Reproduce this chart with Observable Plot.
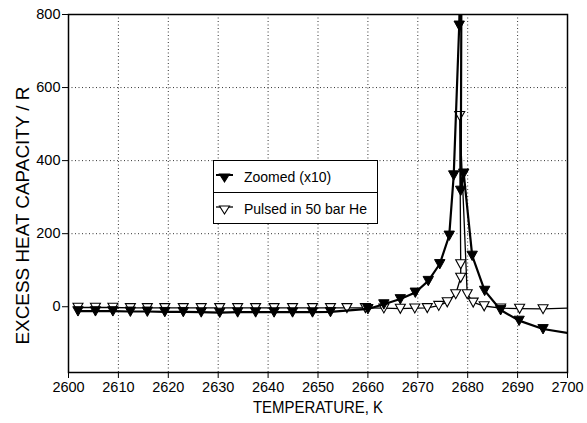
<!DOCTYPE html>
<html><head><meta charset="utf-8">
<script src="https://cdn.jsdelivr.net/npm/d3@7"></script>
<script src="https://cdn.jsdelivr.net/npm/@observablehq/plot@0.6"></script>
<style>
html,body{margin:0;padding:0;background:#fff;}
#wrap{position:relative;width:587px;height:423px;}
#legend{position:absolute;left:213px;top:160px;width:163px;height:62px;border:1.3px solid #000;background:#fff;font:14px "Liberation Sans",Arial,sans-serif;color:#000;}
.row{position:absolute;left:0;width:100%;height:31px;display:flex;align-items:center;}
.row svg{margin-left:1px;margin-right:9px;}
</style></head><body><div id="wrap"><div id="legend"></div></div>
<script>
// Zoomed (x10) series — filled down-triangles
const zoomedT = [2601.9,2605.4,2608.9,2612.4,2615.8,2619.3,2623.0,2626.6,2630.3,2633.9,2637.5,2641.2,2644.9,2648.9,2652.5,2660.0,2663.2,2666.5,2669.5,2672.1,2674.4,2676.3,2677.2,2678.3,2678.8,2678.6,2679.2,2680.9,2683.4,2686.6,2690.3,2695.1];
const zoomedC = [-12,-12,-12,-13,-13,-14,-14,-15,-16,-15,-15,-15,-15,-15,-14,-6,7,21,39,71,117,195,360,770,1100,318,365,140,44,-9,-38,-61];
const zoomedTailT = [2695.1,2700];
const zoomedTailC = [-61,-72];
// Pulsed in 50 bar He — open down-triangles
const pulsedT = [2601.9,2605.4,2608.9,2612.4,2615.8,2619.3,2623.0,2626.6,2630.3,2633.9,2637.5,2641.2,2644.9,2648.9,2652.5,2655.8,2659.5,2663.2,2666.5,2669.4,2671.9,2674.2,2675.9,2677.6,2678.6,2678.6,2678.4,2679.9,2681.1,2683.3,2686.6,2690.4,2695.1];
const pulsedC = [-2,-2,-2,-3,-3,-3,-3,-3,-3,-3,-3,-3,-3,-3,-3,-3,-3,-4,-5,-4,-3,3,13,35,80,117,523,35,12,2,-4,-5,-6];
const pulsedTailT = [2695.1,2700];
const pulsedTailC = [-6,-4];
const xTicks = [2600,2610,2620,2630,2640,2650,2660,2670,2680,2690,2700];
const yTicks = [0,200,400,600,800];
const seriesNames = ["Zoomed (x10)","Pulsed in 50 bar He"];
const xTitle = "TEMPERATURE, K";
const yTitle = "EXCESS HEAT CAPACITY / R";

const zoomed = zoomedT.map((t,i)=>({t, c: zoomedC[i]}));
const zoomedTail = zoomedTailT.map((t,i)=>({t, c: zoomedTailC[i]}));
const pulsed = pulsedT.map((t,i)=>({t, c: pulsedC[i]}));
const pulsedTail = pulsedTailT.map((t,i)=>({t, c: pulsedTailC[i]}));

const downTri = {draw(ctx, size){ const r = Math.sqrt(size/Math.PI); ctx.moveTo(-r,-0.85*r); ctx.lineTo(r,-0.85*r); ctx.lineTo(0,0.95*r); ctx.closePath(); }};

const chart = Plot.plot({
  width: 587, height: 423,
  marginLeft: 68, marginRight: 20, marginTop: 14, marginBottom: 51,
  style: {fontFamily: '"Liberation Sans", Arial, sans-serif', fontSize: "14px", color: "#000", background: "#fff"},
  x: {domain: [2600,2700]},
  y: {domain: [-180,800]},
  marks: [
    Plot.gridX(xTicks.slice(1,-1), {stroke: "#000", strokeOpacity: 0.8, strokeDasharray: "1,2.5", strokeWidth: 1}),
    Plot.gridY(yTicks.slice(1,-1), {stroke: "#000", strokeOpacity: 0.8, strokeDasharray: "1,2.5", strokeWidth: 1}),
    Plot.axisX({ticks: xTicks, tickSize: 6, tickPadding: 3, tickFormat: d => String(d), label: null, fontSize: 14.5}),
    Plot.axisY({ticks: yTicks, tickSize: 6, tickPadding: 2, tickFormat: d => String(d), label: null, fontSize: 14.5}),
    Plot.frame({stroke: "#000", strokeWidth: 1.5}),
    Plot.line(pulsed, {x: "t", y: "c", stroke: "#000", strokeWidth: 1.3, clip: true}),
    Plot.line(pulsedTail, {x: "t", y: "c", stroke: "#000", strokeWidth: 1.3, clip: true}),
    Plot.dot(pulsed, {x: "t", y: "c", symbol: downTri, r: 5, fill: "#fff", stroke: "#000", strokeWidth: 1.1, clip: true}),
    Plot.line(zoomed, {x: "t", y: "c", stroke: "#000", strokeWidth: 2.2, clip: true}),
    Plot.line(zoomedTail, {x: "t", y: "c", stroke: "#000", strokeWidth: 2.2, clip: true}),
    Plot.dot(zoomed, {x: "t", y: "c", symbol: downTri, r: 5.2, fill: "#000", stroke: "#000", strokeWidth: 1, clip: true}),
    Plot.text([xTitle], {text: d => d, frameAnchor: "bottom", textAnchor: "middle", dy: 40, fontSize: 17, fill: "#000"}),
    Plot.text([yTitle], {text: d => d, frameAnchor: "left", textAnchor: "middle", dx: -46, dy: 22, rotate: -90, fontSize: 19, fill: "#000"})
  ]
});
document.getElementById("wrap").prepend(chart);
// condense the axis titles to the reference's narrow lettering
for (const el of chart.querySelectorAll("text")) {
  const s = el.textContent;
  if (s === xTitle) { el.setAttribute("textLength", 130); el.setAttribute("lengthAdjust", "spacingAndGlyphs"); }
  if (s === yTitle) { el.setAttribute("textLength", 258); el.setAttribute("lengthAdjust", "spacingAndGlyphs"); }
}

// Legend
const legend = document.getElementById("legend");
function row(name, filled, top, border){
  const r = document.createElement("div");
  r.className = "row"; r.style.top = top + "px";
  if (border) r.style.borderTop = "1.3px solid #000";
  const ns = "http://www.w3.org/2000/svg";
  const s = document.createElementNS(ns, "svg");
  s.setAttribute("width", 20); s.setAttribute("height", 14);
  const l = document.createElementNS(ns, "line");
  l.setAttribute("x1", 1); l.setAttribute("x2", 18); l.setAttribute("y1", 5); l.setAttribute("y2", 5);
  l.setAttribute("stroke", "#000"); l.setAttribute("stroke-width", filled ? 2 : 1.3);
  const p = document.createElementNS(ns, "path");
  p.setAttribute("d", "M4.5,4 L14.5,4 L9.5,12 Z");
  p.setAttribute("fill", filled ? "#000" : "#fff"); p.setAttribute("stroke", "#000"); p.setAttribute("stroke-width", 1.1);
  s.appendChild(l); s.appendChild(p);
  const t = document.createElement("span"); t.textContent = name;
  r.appendChild(s); r.appendChild(t);
  legend.appendChild(r);
}
row(seriesNames[0], true, 0, false);
row(seriesNames[1], false, 31, true);
</script>
</body></html>
